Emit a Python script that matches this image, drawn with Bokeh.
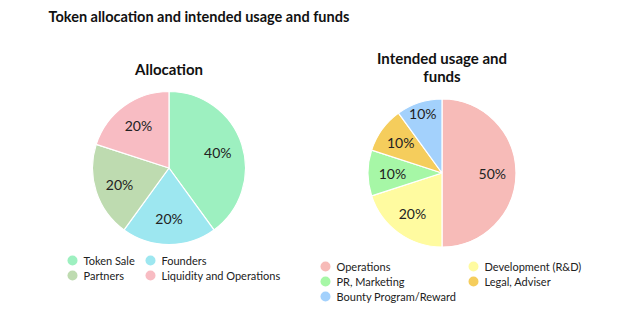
import numpy as np
from bokeh.plotting import figure
from bokeh.models import Range1d, ColumnDataSource
from bokeh.core.properties import value
from bokeh.embed import file_html
from bokeh.resources import INLINE

# ---- data ----
alloc_labels = ["Token Sale", "Founders", "Partners", "Liquidity and Operations"]
alloc_values = [40, 20, 20, 20]
alloc_colors = ["#9df0c0", "#9de7f0", "#bedbb0", "#f8bcc3"]

usage_labels = ["Operations", "Development (R&D)", "PR, Marketing", "Legal, Adviser", "Bounty Program/Reward"]
usage_values = [50, 20, 10, 10, 10]
usage_colors = ["#f7bbb8", "#fffba0", "#a6f7a6", "#f5cd5c", "#a3d1fc"]

W, H = 640, 321
FONT = "Lato"

p = figure(width=W, height=H, x_range=Range1d(0, W), y_range=Range1d(0, H),
           output_backend="svg", toolbar_location=None, min_border=0)
p.axis.visible = False
p.grid.visible = False
p.outline_line_color = None
p.background_fill_color = "white"
p.border_fill_color = "white"


def Y(ypix):
    return H - ypix


def pie(cx, cy, r, labels, vals, colors, label_fracs):
    vals = np.array(vals, dtype=float)
    frac = vals / vals.sum()
    cum = np.concatenate([[0], np.cumsum(frac)])
    start = np.pi / 2 - cum[:-1] * 2 * np.pi
    end = np.pi / 2 - cum[1:] * 2 * np.pi
    mid = (start + end) / 2
    lf = np.array(label_fracs)
    src = ColumnDataSource(dict(start=start, end=end, color=colors,
                                lx=cx + lf * r * np.cos(mid),
                                ly=Y(cy) + lf * r * np.sin(mid),
                                txt=["%d%%" % v for v in vals]))
    p.wedge(x=cx, y=Y(cy), radius=r, start_angle="start", end_angle="end",
            direction="clock", fill_color="color", line_color="white",
            line_width=1.2, source=src)
    p.text(x="lx", y="ly", text="txt", source=src, text_align="center",
           text_baseline="middle", text_font=value(FONT), text_font_size="14px",
           text_color="#222222")


def legend(x0, y0, col_dx, row_dy, ncol, labels, colors):
    n = len(labels)
    xs = [x0 + (i % ncol) * col_dx for i in range(n)]
    ys = [Y(y0 + (i // ncol) * row_dy) for i in range(n)]
    src = ColumnDataSource(dict(x=xs, y=ys, tx=[x + 11 for x in xs], c=colors, t=labels))
    p.scatter(x="x", y="y", size=10, marker="circle", fill_color="c",
              line_color=None, source=src)
    p.text(x="tx", y="y", text="t", source=src, text_align="left",
           text_baseline="middle", text_font=value(FONT), text_font_size="11px",
           text_color="#222222")


pie(168.5, 167.5, 76.5, alloc_labels, alloc_values, alloc_colors, [0.67, 0.66, 0.68, 0.68])
pie(441.5, 172.5, 74, usage_labels, usage_values, usage_colors, [0.68, 0.68, 0.67, 0.69, 0.84])

legend(72, 260, 78, 15, 2, alloc_labels, alloc_colors)
legend(325, 266, 148, 15, 2, usage_labels, usage_colors)

p.text(x=[48], y=[Y(16)], text=["Token allocation and intended usage and funds"],
       text_align="left", text_baseline="middle", text_font=value(FONT),
       text_font_size="14.5px", text_font_style="bold", text_color="#111111")
p.text(x=[168.5], y=[Y(68)], text=["Allocation"], text_align="center",
       text_baseline="middle", text_font=value(FONT), text_font_size="15px",
       text_font_style="bold", text_color="#111111")
p.text(x=[441.5, 441.5], y=[Y(57), Y(75)], text=["Intended usage and", "funds"],
       text_align="center", text_baseline="middle", text_font=value(FONT),
       text_font_size="15px", text_font_style="bold", text_color="#111111")

open("out.html", "w").write(file_html(p, INLINE))
